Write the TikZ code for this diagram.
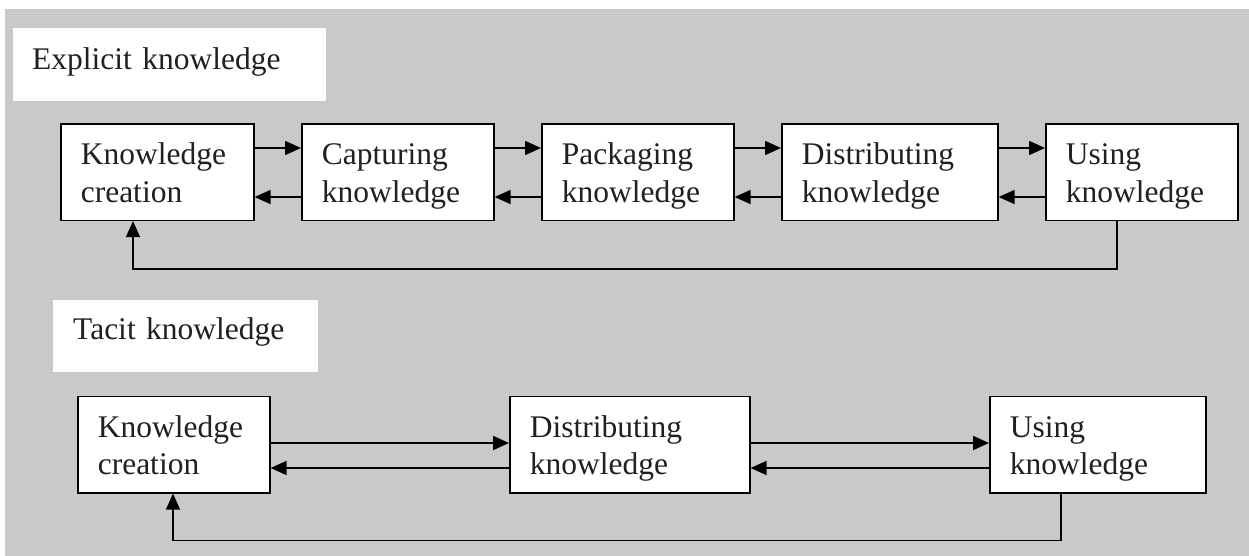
\documentclass[tikz,border=0pt]{standalone}
\usepackage{fontspec}
\setmainfont{Liberation Serif}
\usetikzlibrary{arrows.meta,calc}
\definecolor{bg}{RGB}{200,201,203}
\definecolor{ink}{RGB}{35,31,32}
\newcommand\twoline[2]{\rule{0pt}{41pt}#1\\#2\rule[-18pt]{0pt}{18pt}}
\begin{document}
\begin{tikzpicture}[x=1pt,y=-1pt,
  every node/.style={font=\fontsize{31.5}{37.5}\selectfont, text=ink},
  kbox/.style={draw=black, line width=1.6pt, fill=white, anchor=north west, inner xsep=20pt, inner ysep=0pt, align=left},
  title/.style={fill=white, anchor=north west, inner xsep=19pt, inner ysep=0pt, align=left},
  arr/.style={line width=1.6pt, -{Triangle[length=16pt,width=14pt]}}]
\useasboundingbox (0,0) rectangle (1249,556);
\fill[bg] (5,9) rectangle (1249,556);
% titles
\node[title, text width=275pt] (ex) at (13,28) {\rule{0pt}{41pt}Explicit knowledge\rule[-32pt]{0pt}{32pt}};
\node[title, inner xsep=20pt, text width=225pt] (ta) at (53,300) {\rule{0pt}{39pt}Tacit knowledge\rule[-33pt]{0pt}{33pt}};
% explicit row
\node[kbox, text width=153pt] (e1) at (60,123) {\twoline{Knowledge}{creation}};
\node[kbox, text width=152pt] (e2) at (301,123) {\twoline{Capturing}{knowledge}};
\node[kbox, text width=152pt] (e3) at (541,123) {\twoline{Packaging}{knowledge}};
\node[kbox, text width=176pt] (e4) at (781,123) {\twoline{Distributing}{knowledge}};
\node[kbox, text width=152pt] (e5) at (1045,123) {\twoline{Using}{knowledge}};
% tacit row
\node[kbox, text width=152pt] (t1) at (77,395.5) {\twoline{Knowledge}{creation}};
\node[kbox, text width=200pt] (t2) at (509,395.5) {\twoline{Distributing}{knowledge}};
\node[kbox, text width=176pt] (t3) at (989,395.5) {\twoline{Using}{knowledge}};
% explicit arrows
\foreach \a/\b in {e1/e2,e2/e3,e3/e4,e4/e5}{
  \draw[arr] ($(\a.north east)+(0,25)$) -- ($(\b.north west)+(0,25)$);
  \draw[arr] ($(\b.north west)+(0,74)$) -- ($(\a.north east)+(0,74)$);
}
\draw[arr] ($(e5.south west)+(72,0)$) -- ++(0,48) -| ($(e1.south west)+(73,0)$);
% tacit arrows
\foreach \a/\b in {t1/t2,t2/t3}{
  \draw[arr] ($(\a.north east)+(0,47.5)$) -- ($(\b.north west)+(0,47.5)$);
  \draw[arr] ($(\b.north west)+(0,72.5)$) -- ($(\a.north east)+(0,72.5)$);
}
\draw[arr] ($(t3.south west)+(72,0)$) -- ++(0,47) -| ($(t1.south west)+(96,0)$);
\end{tikzpicture}
\end{document}
